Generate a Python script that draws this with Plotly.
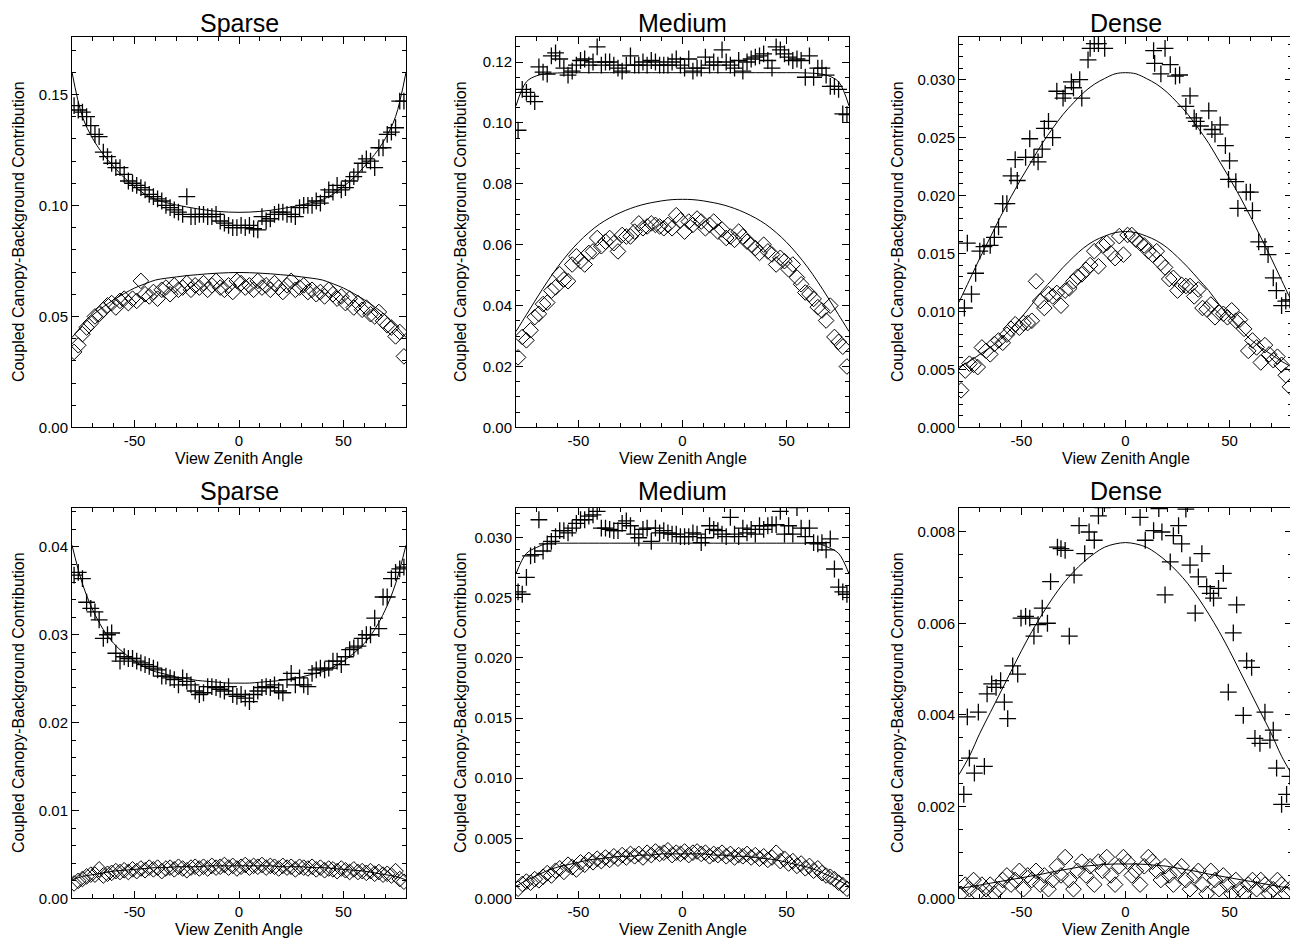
import plotly.graph_objects as go

# ---------------- data ----------------
angles = [-79, -77, -75, -73, -71, -69, -67, -65, -63, -61, -59, -57, -55, -53, -51, -49, -47, -45, -43, -41,
          -39, -37, -35, -33, -31, -29, -27, -25, -23, -21, -19, -17, -15, -13, -11, -9, -7, -5, -3, -1,
          1, 3, 5, 7, 9, 11, 13, 15, 17, 19, 21, 23, 25, 27, 29, 31, 33, 35, 37, 39,
          41, 43, 45, 47, 49, 51, 53, 55, 57, 59, 61, 63, 65, 67, 69, 71, 73, 75, 77, 79]

line_angles = [-80, -75, -70, -65, -60, -55, -50, -45, -40, -35, -30, -25, -20, -15, -10, -5, 0,
               5, 10, 15, 20, 25, 30, 35, 40, 45, 50, 55, 60, 65, 70, 75, 80]

# Top row, Sparse
sparse1_cross = [0.145, 0.143, 0.142, 0.140, 0.136, 0.132, 0.131, 0.124, 0.122, 0.119, 0.117, 0.117, 0.114, 0.111, 0.110, 0.109, 0.108, 0.107, 0.105, 0.104,
                 0.103, 0.102, 0.100, 0.099, 0.098, 0.097, 0.096, 0.104, 0.095, 0.095, 0.096, 0.096, 0.095, 0.095, 0.096, 0.093, 0.092, 0.091, 0.090, 0.090,
                 0.091, 0.090, 0.091, 0.0895, 0.089, 0.095, 0.093, 0.094, 0.096, 0.097, 0.097, 0.096, 0.096, 0.095, 0.099, 0.100, 0.100, 0.100, 0.102, 0.101,
                 0.104, 0.107, 0.106, 0.109, 0.107, 0.108, 0.111, 0.113, 0.115, 0.119, 0.121, 0.120, 0.117, 0.126, 0.126, 0.132, 0.133, 0.135, 0.147, 0.147]
sparse1_diam = [0.034, 0.037, 0.042, 0.045, 0.047, 0.050, 0.051, 0.053, 0.055, 0.056, 0.054, 0.057, 0.058, 0.056, 0.058, 0.057, 0.066, 0.060, 0.059, 0.061,
                0.058, 0.062, 0.063, 0.060, 0.064, 0.062, 0.063, 0.065, 0.062, 0.064, 0.063, 0.065, 0.062, 0.064, 0.066, 0.063, 0.062, 0.064, 0.061, 0.066,
                0.065, 0.063, 0.064, 0.062, 0.066, 0.063, 0.064, 0.062, 0.065, 0.063, 0.061, 0.064, 0.066, 0.062, 0.063, 0.064, 0.061, 0.062, 0.060, 0.061,
                0.059, 0.062, 0.060, 0.058, 0.059, 0.056, 0.058, 0.054, 0.056, 0.053, 0.054, 0.051, 0.050, 0.052, 0.048, 0.046, 0.045, 0.041, 0.043, 0.032]
sparse1_cross_line = [0.1600, 0.1400, 0.1300, 0.1230, 0.1175, 0.1125, 0.1085, 0.1050, 0.1027, 0.1013, 0.1002, 0.0993, 0.0985, 0.0978, 0.0973, 0.0970, 0.0969,
                      0.0970, 0.0973, 0.0978, 0.0985, 0.0993, 0.1002, 0.1013, 0.1027, 0.1050, 0.1085, 0.1125, 0.1175, 0.1230, 0.1300, 0.1400, 0.1600]
sparse1_diam_line = [0.0405, 0.0460, 0.0507, 0.0543, 0.0575, 0.0603, 0.0628, 0.0647, 0.0664, 0.0672, 0.0678, 0.0684, 0.0688, 0.0692, 0.0695, 0.0697, 0.0698,
                     0.0697, 0.0695, 0.0692, 0.0688, 0.0684, 0.0678, 0.0672, 0.0664, 0.0647, 0.0628, 0.0603, 0.0575, 0.0543, 0.0507, 0.0460, 0.0405]

# Top row, Medium
medium1_cross = [0.0976, 0.111, 0.110, 0.1087, 0.107, 0.1184, 0.1167, 0.116, 0.122, 0.123, 0.121, 0.118, 0.1157, 0.117, 0.119, 0.1205, 0.121, 0.119, 0.120, 0.125,
                 0.119, 0.120, 0.120, 0.119, 0.118, 0.117, 0.119, 0.122, 0.119, 0.119, 0.120, 0.119, 0.1205, 0.120, 0.119, 0.119, 0.119, 0.120, 0.121, 0.119,
                 0.118, 0.121, 0.117, 0.118, 0.118, 0.1216, 0.119, 0.120, 0.119, 0.124, 0.120, 0.119, 0.118, 0.1205, 0.117, 0.120, 0.121, 0.1216, 0.122, 0.1227,
                 0.1205, 0.118, 0.125, 0.124, 0.1227, 0.1216, 0.1205, 0.121, 0.1205, 0.115, 0.122, 0.115, 0.118, 0.118, 0.1157, 0.112, 0.112, 0.111, 0.103, 0.1027]
medium1_diam = [0.023, 0.0297, 0.0286, 0.0319, 0.0362, 0.0373, 0.0405, 0.041, 0.0449, 0.046, 0.0503, 0.0486, 0.048, 0.0535, 0.0562, 0.0546, 0.0535, 0.0573, 0.0578, 0.0622,
                0.0595, 0.061, 0.0622, 0.0605, 0.0578, 0.0632, 0.0627, 0.0627, 0.0643, 0.067, 0.0654, 0.066, 0.067, 0.0665, 0.066, 0.0654, 0.0665, 0.0654, 0.0697, 0.068,
                0.0643, 0.0676, 0.0665, 0.0686, 0.0676, 0.0654, 0.0665, 0.0676, 0.0643, 0.065, 0.0622, 0.0627, 0.0616, 0.0643, 0.0627, 0.061, 0.060, 0.0589, 0.0573, 0.060,
                0.0578, 0.0568, 0.0535, 0.0557, 0.0546, 0.0519, 0.0535, 0.0492, 0.047, 0.0443, 0.0438, 0.0422, 0.0395, 0.0384, 0.0351, 0.040, 0.0297, 0.0281, 0.0265, 0.020]
medium1_cross_line = [0.1056, 0.1135, 0.1155, 0.1162, 0.1164, 0.1165, 0.1165, 0.1165, 0.1165, 0.1165, 0.1165, 0.1165, 0.1165, 0.1165, 0.1165, 0.1165, 0.1165,
                      0.1165, 0.1165, 0.1165, 0.1165, 0.1165, 0.1165, 0.1165, 0.1165, 0.1165, 0.1165, 0.1165, 0.1164, 0.1162, 0.1155, 0.1135, 0.1056]
medium1_diam_line = [0.0315, 0.0370, 0.0425, 0.0478, 0.0527, 0.0570, 0.0608, 0.0640, 0.0667, 0.0688, 0.0705, 0.0719, 0.0730, 0.0738, 0.0744, 0.0748, 0.0749,
                     0.0748, 0.0744, 0.0738, 0.0730, 0.0719, 0.0705, 0.0688, 0.0667, 0.0640, 0.0608, 0.0570, 0.0527, 0.0478, 0.0425, 0.0370, 0.0315]

# Top row, Dense
dense1_cross_x = [-77.4, -76, -74, -72, -70, -68, -65, -63, -61, -59, -57, -55, -53, -52, -48, -46, -44, -42, -40, -39,
                  -37, -35, -33, -30, -29, -26, -25, -22, -21, -18, -17, -15, -13, -10, 13.5, 14, 17, 19, 21.5, 24,
                  26, 29, 31, 33, 34, 36, 40, 41.5, 43, 45.5, 48, 49.5, 50, 53, 54, 58, 60, 61, 64, 67,
                  68.5, 71, 72.5, 75, 77, 79]
dense1_cross = [0.0103, 0.0159, 0.0115, 0.0133, 0.0152, 0.0156, 0.0157, 0.0164, 0.0173, 0.0193, 0.0193, 0.0217, 0.0231, 0.0213, 0.0233, 0.0249, 0.0233, 0.0229, 0.0240, 0.0258,
                0.0264, 0.0250, 0.0290, 0.0284, 0.0288, 0.0298, 0.0293, 0.0300, 0.0284, 0.0317, 0.0327, 0.0331, 0.0331, 0.0327, 0.0325, 0.0314, 0.0305, 0.0327, 0.0313, 0.0303,
                0.0304, 0.0277, 0.0286, 0.0267, 0.0264, 0.0260, 0.0273, 0.0257, 0.0253, 0.0261, 0.0243, 0.0214, 0.0230, 0.0212, 0.0189, 0.0203, 0.0203, 0.0187, 0.0160, 0.0156,
                0.0149, 0.0129, 0.0118, 0.0105, 0.0109, 0.0110]
dense1_diam = [0.0032, 0.0049, 0.0055, 0.0054, 0.0052, 0.0069, 0.0066, 0.0063, 0.0072, 0.0075, 0.0073, 0.0080, 0.0085, 0.0089, 0.0086, 0.0090, 0.0090, 0.0092, 0.0126, 0.0109,
               0.0103, 0.0115, 0.0113, 0.0116, 0.0105, 0.0118, 0.0120, 0.0126, 0.0130, 0.0132, 0.0136, 0.0140, 0.0152, 0.0139, 0.0157, 0.0159, 0.0150, 0.0146, 0.0165, 0.0149,
               0.0166, 0.0166, 0.0162, 0.0159, 0.0157, 0.0152, 0.0149, 0.0152, 0.0142, 0.0138, 0.0128, 0.0129, 0.0118, 0.0123, 0.0122, 0.0122, 0.0113, 0.0119, 0.0103, 0.0102,
               0.0106, 0.0095, 0.0099, 0.0098, 0.0095, 0.0101, 0.0092, 0.0093, 0.0085, 0.0066, 0.0075, 0.0069, 0.0056, 0.0071, 0.0063, 0.0058, 0.0061, 0.0054, 0.0045, 0.0035]
dense1_cross_line = [0.0108, 0.0127, 0.0146, 0.0164, 0.0182, 0.0199, 0.0215, 0.0230, 0.0245, 0.0258, 0.0270, 0.0280, 0.0289, 0.0296, 0.0301, 0.0305, 0.0306,
                     0.0305, 0.0301, 0.0296, 0.0289, 0.0280, 0.0270, 0.0258, 0.0245, 0.0230, 0.0215, 0.0199, 0.0182, 0.0164, 0.0146, 0.0127, 0.0108]
dense1_diam_line = [0.0052, 0.0057, 0.0063, 0.0069, 0.0076, 0.0085, 0.0095, 0.0106, 0.0118, 0.0128, 0.0138, 0.0147, 0.0155, 0.0161, 0.0165, 0.0168, 0.0169,
                    0.0168, 0.0165, 0.0161, 0.0155, 0.0147, 0.0138, 0.0128, 0.0118, 0.0106, 0.0095, 0.0085, 0.0076, 0.0069, 0.0063, 0.0057, 0.0052]

# Bottom row, Sparse
sparse2_cross = [0.0368, 0.0371, 0.0364, 0.0337, 0.0330, 0.0326, 0.0317, 0.0296, 0.0300, 0.0302, 0.0279, 0.0270, 0.0275, 0.0273, 0.0273, 0.0270, 0.0268, 0.0266, 0.0264, 0.0262,
                 0.0260, 0.0253, 0.0253, 0.0251, 0.0249, 0.0243, 0.0251, 0.0247, 0.0243, 0.0236, 0.0232, 0.0234, 0.0241, 0.0241, 0.0240, 0.0238, 0.0236, 0.0241, 0.0232, 0.0230,
                 0.0232, 0.0228, 0.0224, 0.0232, 0.0236, 0.0240, 0.0241, 0.0240, 0.0243, 0.0236, 0.0234, 0.0249, 0.0256, 0.0243, 0.0251, 0.0243, 0.0241, 0.0256, 0.0260, 0.0262,
                 0.0260, 0.0262, 0.0270, 0.0270, 0.0266, 0.0275, 0.0283, 0.0285, 0.0287, 0.0296, 0.0300, 0.0300, 0.0319, 0.0307, 0.0343, 0.0343, 0.0364, 0.0371, 0.0375, 0.0377]
sparse2_diam = [0.0017, 0.0020, 0.0022, 0.0025, 0.0027, 0.0027, 0.0033, 0.0026, 0.0028, 0.0029, 0.0031, 0.0030, 0.0032, 0.0030, 0.0033, 0.0031, 0.0034, 0.0032, 0.0035, 0.0033,
                0.0035, 0.0031, 0.0034, 0.0035, 0.0033, 0.0036, 0.0034, 0.0032, 0.0035, 0.0036, 0.0034, 0.0036, 0.0034, 0.0037, 0.0035, 0.0036, 0.0038, 0.0035, 0.0037, 0.0034,
                0.0036, 0.0038, 0.0035, 0.0037, 0.0036, 0.0038, 0.0035, 0.0037, 0.0036, 0.0034, 0.0037, 0.0035, 0.0036, 0.0033, 0.0036, 0.0035, 0.0034, 0.0036, 0.0033, 0.0035,
                0.0032, 0.0034, 0.0033, 0.0031, 0.0034, 0.0032, 0.0030, 0.0033, 0.0030, 0.0031, 0.0029, 0.0031, 0.0028, 0.0030, 0.0027, 0.0028, 0.0026, 0.0031, 0.0022, 0.0019]
sparse2_cross_line = [0.0402, 0.0358, 0.0328, 0.0306, 0.0290, 0.0279, 0.0270, 0.0263, 0.0258, 0.0255, 0.0252, 0.0250, 0.0248, 0.0247, 0.0246, 0.0245, 0.0245,
                      0.0245, 0.0246, 0.0247, 0.0248, 0.0250, 0.0252, 0.0255, 0.0258, 0.0263, 0.0270, 0.0279, 0.0290, 0.0306, 0.0328, 0.0358, 0.0402]
sparse2_diam_line = [0.0021, 0.0025, 0.0027, 0.0029, 0.0031, 0.0032, 0.0033, 0.0034, 0.0035, 0.0035, 0.0036, 0.0036, 0.0036, 0.0037, 0.0037, 0.0037, 0.0037,
                     0.0037, 0.0037, 0.0037, 0.0036, 0.0036, 0.0036, 0.0035, 0.0035, 0.0034, 0.0033, 0.0032, 0.0031, 0.0029, 0.0027, 0.0025, 0.0021]

# Bottom row, Medium
medium2_cross = [0.0255, 0.0253, 0.0267, 0.0285, 0.0286, 0.0315, 0.0289, 0.0295, 0.0297, 0.0301, 0.0306, 0.0306, 0.0304, 0.0308, 0.0312, 0.0315, 0.0315, 0.0318, 0.0319, 0.0322,
                 0.0308, 0.0308, 0.0307, 0.0306, 0.0306, 0.0312, 0.0314, 0.0310, 0.0303, 0.0300, 0.0307, 0.0308, 0.0297, 0.0308, 0.0304, 0.0306, 0.0304, 0.0303, 0.0303, 0.0301,
                 0.0301, 0.0301, 0.0304, 0.0303, 0.0296, 0.0300, 0.0310, 0.0307, 0.0306, 0.0303, 0.0301, 0.0317, 0.0303, 0.0301, 0.0308, 0.0304, 0.0307, 0.0303, 0.0310, 0.0307,
                 0.0310, 0.0311, 0.0311, 0.0322, 0.0303, 0.0310, 0.0303, 0.0325, 0.0308, 0.0301, 0.0308, 0.0296, 0.0295, 0.0296, 0.0290, 0.0299, 0.0274, 0.0259, 0.0255, 0.0253]
medium2_diam = [0.0008, 0.0012, 0.0014, 0.0013, 0.0016, 0.0015, 0.0018, 0.0021, 0.0019, 0.0023, 0.0025, 0.0022, 0.0028, 0.0026, 0.0024, 0.0030, 0.0028, 0.0032, 0.0030, 0.0033,
                0.0031, 0.0034, 0.0032, 0.0035, 0.0033, 0.0036, 0.0034, 0.0037, 0.0035, 0.0037, 0.0034, 0.0038, 0.0036, 0.0039, 0.0037, 0.0038, 0.0040, 0.0036, 0.0038, 0.0037,
                0.0039, 0.0036, 0.0038, 0.0039, 0.0037, 0.0038, 0.0035, 0.0037, 0.0036, 0.0038, 0.0035, 0.0037, 0.0034, 0.0036, 0.0035, 0.0037, 0.0034, 0.0036, 0.0033, 0.0035,
                0.0032, 0.0034, 0.0038, 0.0031, 0.0033, 0.0029, 0.0031, 0.0027, 0.0029, 0.0025, 0.0027, 0.0023, 0.0025, 0.0021, 0.0019, 0.0018, 0.0016, 0.0013, 0.0011, 0.0008]
medium2_cross_line = [0.0270, 0.0287, 0.0292, 0.02953, 0.02955, 0.02955, 0.02955, 0.02955, 0.02955, 0.02955, 0.02955, 0.02955, 0.02955, 0.02955, 0.02955, 0.02955, 0.02955,
                      0.02955, 0.02955, 0.02955, 0.02955, 0.02955, 0.02955, 0.02955, 0.02955, 0.02955, 0.02955, 0.02955, 0.02955, 0.02953, 0.0292, 0.0287, 0.0270]
medium2_diam_line = [0.0010, 0.0015, 0.0019, 0.0023, 0.0026, 0.0028, 0.0030, 0.0032, 0.0033, 0.0034, 0.0035, 0.0035, 0.0036, 0.0036, 0.0037, 0.0037, 0.0037,
                     0.0037, 0.0037, 0.0036, 0.0036, 0.0035, 0.0035, 0.0034, 0.0033, 0.0032, 0.0030, 0.0028, 0.0026, 0.0023, 0.0019, 0.0015, 0.0010]

# Bottom row, Dense
dense2_cross_x = [-77.7, -76, -75, -72.6, -70.7, -67.8, -66.5, -64.3, -62.2, -60, -58.2, -56.6, -54.2, -51.8, -50.2, -48, -46, -44, -42, -40,
                  -37.5, -36, -32.7, -31, -29, -27, -24.7, -22.3, -19.6, -17.5, -15, -13, -11, 7, 9.5, 13.5, 16, 17.5, 19, 21.5,
                  23, 25.5, 27, 29, 31, 33.5, 35, 36.7, 39, 40.7, 42.3, 44.7, 47, 49.4, 51.8, 53.4, 56.6, 58.2, 60.6, 62.2,
                  64.6, 67, 69.4, 71, 72.6, 75, 77.4, 79]
dense2_cross = [0.00227, 0.00396, 0.00306, 0.00273, 0.00406, 0.00288, 0.00446, 0.00468, 0.00460, 0.00475, 0.00428, 0.00392, 0.00507, 0.00489, 0.00611, 0.00615, 0.00611, 0.00572, 0.00597, 0.00633,
                0.00600, 0.00691, 0.00766, 0.00763, 0.00759, 0.00572, 0.00705, 0.00813, 0.00752, 0.00799, 0.00781, 0.00834, 0.00852, 0.00831, 0.00781, 0.00802, 0.00850, 0.00799, 0.00662, 0.00734,
                0.00791, 0.00813, 0.00773, 0.00849, 0.00727, 0.00622, 0.00701, 0.00752, 0.00680, 0.00665, 0.00655, 0.00676, 0.00709, 0.00450, 0.00579, 0.00640, 0.00399, 0.00518, 0.00504, 0.00349,
                0.00338, 0.00406, 0.00345, 0.00367, 0.00284, 0.00205, 0.00227, 0.00266]
dense2_diam = [0.0001, 0.0003, 0.0002, 0.0004, 0.0001, 0.0003, 0.0002, 0.0003, 0.0001, 0.0002, 0.0004, 0.0005, 0.0003, 0.0004, 0.0006, 0.0002, 0.0005, 0.0004, 0.0006, 0.0003,
               0.0005, 0.0002, 0.0004, 0.0007, 0.0005, 0.0009, 0.0004, 0.0002, 0.0006, 0.0008, 0.0005, 0.0007, 0.0003, 0.0008, 0.0006, 0.0009, 0.0005, 0.0003, 0.0007, 0.0009,
               0.0008, 0.0005, 0.0006, 0.0003, 0.0007, 0.0009, 0.0008, 0.0006, 0.0004, 0.0007, 0.0005, 0.0003, 0.0006, 0.0007, 0.0004, 0.0002, 0.0005, 0.0006, 0.0003, 0.0001,
               0.0006, 0.0004, 0.0002, 0.0005, 0.0003, 0.0001, 0.0004, 0.0002, 0.0001, 0.0003, 0.0004, 0.0002, 0.0004, 0.0003, 0.0001, 0.0002, 0.0004, 0.0003, 0.0001, 0.0002]
dense2_cross_line = [0.00270, 0.00310, 0.00360, 0.00405, 0.00450, 0.00495, 0.00540, 0.00582, 0.00620, 0.00655, 0.00686, 0.00712, 0.00734, 0.00752, 0.00766, 0.00773, 0.00776,
                     0.00773, 0.00766, 0.00752, 0.00734, 0.00712, 0.00686, 0.00655, 0.00620, 0.00582, 0.00540, 0.00495, 0.00450, 0.00405, 0.00360, 0.00310, 0.00270]
dense2_diam_line = [0.00022, 0.00025, 0.00029, 0.00033, 0.00037, 0.00041, 0.00045, 0.00049, 0.00053, 0.00058, 0.00062, 0.00066, 0.00070, 0.00072, 0.00074, 0.00075, 0.00075,
                    0.00075, 0.00074, 0.00072, 0.00070, 0.00066, 0.00062, 0.00058, 0.00053, 0.00049, 0.00045, 0.00041, 0.00037, 0.00033, 0.00029, 0.00025, 0.00022]

panel_titles = ["Sparse", "Medium", "Dense", "Sparse", "Medium", "Dense"]
x_label = "View Zenith Angle"
y_label = "Coupled Canopy-Background Contribution"
x_ticks = [-50, 0, 50]
y_ranges = [[0, 0.176], [0, 0.1283], [0, 0.0337], [0, 0.04446], [0, 0.0325], [0, 0.00852]]
y_dticks = [0.05, 0.02, 0.005, 0.01, 0.005, 0.002]
y_minor = [0.01, 0.005, 0.001, 0.002, 0.001, 0.0005]
y_formats = [".2f", ".2f", ".3f", ".2f", ".3f", ".3f"]

panels = [
    (angles, sparse1_cross, angles, sparse1_diam, sparse1_cross_line, sparse1_diam_line),
    (angles, medium1_cross, angles, medium1_diam, medium1_cross_line, medium1_diam_line),
    (dense1_cross_x, dense1_cross, angles, dense1_diam, dense1_cross_line, dense1_diam_line),
    (angles, sparse2_cross, angles, sparse2_diam, sparse2_cross_line, sparse2_diam_line),
    (angles, medium2_cross, angles, medium2_diam, medium2_cross_line, medium2_diam_line),
    (dense2_cross_x, dense2_cross, angles, dense2_diam, dense2_cross_line, dense2_diam_line),
]

# ---------------- layout geometry (screen pixels; page body has an 8px margin) ----------------
OFF = 8
W, H = 1298 - OFF, 949 - OFF
col_px = [(72, 406), (516, 849), (959, 1292)]
row_px = [(37, 431), (512, 906)]
ylab_px = [18, 460, 897]


def px_x(v):
    return (v - OFF) / W


def px_y(v):
    return 1 - (v - OFF) / H


FONT = "Liberation Sans, Arial, Helvetica, sans-serif"

fig = go.Figure()
layout = dict(width=W, height=H, margin=dict(l=0, r=0, t=0, b=0),
              paper_bgcolor="white", plot_bgcolor="white", showlegend=False,
              font=dict(family=FONT, color="black", size=15))
annotations = []

for i, (cx, cy, dx, dy, cl, dl) in enumerate(panels):
    r, c = divmod(i, 3)
    n = i + 1
    xa = "x" if n == 1 else f"x{n}"
    ya = "y" if n == 1 else f"y{n}"
    fig.add_trace(go.Scatter(x=line_angles, y=cl, mode="lines",
                             line=dict(color="black", width=1, shape="spline", smoothing=1.0),
                             xaxis=xa, yaxis=ya, hoverinfo="skip"))
    fig.add_trace(go.Scatter(x=line_angles, y=dl, mode="lines",
                             line=dict(color="black", width=1, shape="spline", smoothing=1.0),
                             xaxis=xa, yaxis=ya, hoverinfo="skip"))
    fig.add_trace(go.Scatter(x=cx, y=cy, mode="markers",
                             marker=dict(symbol="cross-thin-open", size=12, color="black",
                                         line=dict(color="black", width=1.3)),
                             xaxis=xa, yaxis=ya))
    fig.add_trace(go.Scatter(x=dx, y=dy, mode="markers",
                             marker=dict(symbol="diamond-open", size=12, color="black",
                                         line=dict(color="black", width=1)),
                             xaxis=xa, yaxis=ya))

    x0, x1 = col_px[c]
    yt, yb = row_px[r]
    common = dict(showgrid=False, zeroline=False, showline=True, linecolor="black", linewidth=1,
                  mirror="allticks", ticks="inside", ticklen=7, tickwidth=1, tickcolor="black",
                  tickfont=dict(family=FONT, size=15, color="black"))
    layout["xaxis" if n == 1 else f"xaxis{n}"] = dict(
        domain=[px_x(x0), px_x(x1)], anchor=ya, range=[-80, 80],
        tickmode="array", tickvals=x_ticks, ticktext=[str(v) for v in x_ticks],
        minor=dict(dtick=10, tick0=0, ticks="inside", ticklen=4, tickcolor="black", showgrid=False),
        **common)
    layout["yaxis" if n == 1 else f"yaxis{n}"] = dict(
        domain=[px_y(yb), px_y(yt)], anchor=xa, range=y_ranges[i],
        dtick=y_dticks[i], tick0=0, tickformat=y_formats[i],
        minor=dict(dtick=y_minor[i], tick0=0, ticks="inside", ticklen=4, tickcolor="black", showgrid=False),
        **common)

    xc = px_x((x0 + x1) / 2)
    if r == 0:
        title_pos = dict(y=1.0, yanchor="top")
    else:
        title_pos = dict(y=px_y(yt - 17), yanchor="middle")
    annotations.append(dict(text=panel_titles[i], x=xc, xref="paper", yref="paper",
                            showarrow=False, font=dict(family=FONT, size=25, color="black"),
                            xanchor="center", borderpad=0, **title_pos))
    annotations.append(dict(text=x_label, x=xc, y=px_y(yb + 31), xref="paper", yref="paper",
                            showarrow=False, font=dict(family=FONT, size=16, color="black"),
                            xanchor="center", yanchor="middle"))
    annotations.append(dict(text=y_label, x=px_x(ylab_px[c]), y=px_y((yt + yb) / 2), xref="paper", yref="paper",
                            showarrow=False, textangle=-90, font=dict(family=FONT, size=16, color="black"),
                            xanchor="center", yanchor="middle"))

layout["annotations"] = annotations
fig.update_layout(**layout)
fig.write_html("out.html")
